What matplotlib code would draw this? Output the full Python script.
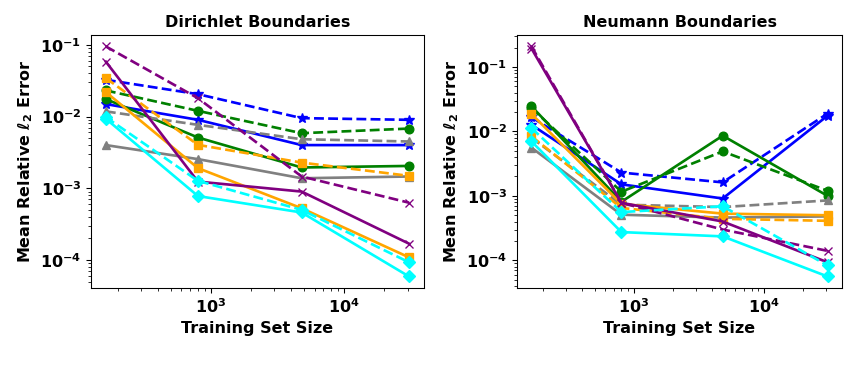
import matplotlib
matplotlib.use("Agg")
import matplotlib.pyplot as plt

# training set sizes
sizes = [163, 800, 4800, 30700]

# Dirichlet boundaries: (solid, dashed) per method
dir_blue = [0.0149, 0.0090, 0.0040, 0.0040]
dir_blue_d = [0.0325, 0.0205, 0.0095, 0.0090]
dir_green = [0.0175, 0.0051, 0.00195, 0.00205]
dir_green_d = [0.0231, 0.0120, 0.00586, 0.0068]
dir_gray = [0.0040, 0.00255, 0.00138, 0.00146]
dir_gray_d = [0.0118, 0.00766, 0.00483, 0.00449]
dir_orange = [0.0219, 0.00191, 0.000527, 0.000109]
dir_orange_d = [0.0343, 0.00403, 0.00228, 0.00149]
dir_purple = [0.058, 0.00124, 0.00090, 0.000169]
dir_purple_d = [0.0948, 0.0180, 0.00146, 0.00063]
dir_cyan = [0.0093, 0.00078, 0.00046, 0.000059]
dir_cyan_d = [0.0098, 0.00127, 0.00050, 0.000093]

# Neumann boundaries
neu_blue = [0.0127, 0.00151, 0.00091, 0.0176]
neu_blue_d = [0.0166, 0.0023, 0.00162, 0.0190]
neu_green = [0.0246, 0.00081, 0.0086, 0.00100]
neu_green_d = [0.0231, 0.00116, 0.0049, 0.00120]
neu_gray = [0.0056, 0.00051, 0.00046, 0.00048]
neu_gray_d = [0.0080, 0.00073, 0.00067, 0.00085]
neu_orange = [0.0187, 0.00075, 0.00053, 0.00050]
neu_orange_d = [0.0084, 0.00065, 0.00044, 0.00041]
neu_purple = [0.194, 0.00078, 0.00040, 0.000093]
neu_purple_d = [0.209, 0.00078, 0.00030, 0.00014]
neu_cyan = [0.0070, 0.000274, 0.000235, 0.000056]
neu_cyan_d = [0.0113, 0.00056, 0.00069, 0.000083]

colors = ['blue', 'green', 'gray', 'orange', 'purple', 'cyan']
markers = ['*', 'o', '^', 's', 'x', 'D']

dirichlet = [(dir_blue, dir_blue_d), (dir_green, dir_green_d), (dir_gray, dir_gray_d),
             (dir_orange, dir_orange_d), (dir_purple, dir_purple_d), (dir_cyan, dir_cyan_d)]
neumann = [(neu_blue, neu_blue_d), (neu_green, neu_green_d), (neu_gray, neu_gray_d),
           (neu_orange, neu_orange_d), (neu_purple, neu_purple_d), (neu_cyan, neu_cyan_d)]

plt.rcParams['font.weight'] = 'bold'
plt.rcParams['axes.labelweight'] = 'bold'
plt.rcParams['axes.titleweight'] = 'bold'
plt.rcParams['font.size'] = 12

fig = plt.figure(figsize=(9, 4), dpi=96)
ax1 = fig.add_axes([0.105, 0.25, 0.386, 0.659])
ax2 = fig.add_axes([0.598, 0.25, 0.377, 0.659])

for ax, data, title in [(ax1, dirichlet, "Dirichlet Boundaries"),
                        (ax2, neumann, "Neumann Boundaries")]:
  for (solid, dashed), c, m in zip(data, colors, markers):
    ms = 8 if m == '*' else 6.5
    ax.plot(sizes, solid, '-', color=c, marker=m, markersize=ms, linewidth=2.0)
    ax.plot(sizes, dashed, '--', color=c, marker=m, markersize=ms, linewidth=2.0)
  ax.set_xscale('log')
  ax.set_yscale('log')
  ax.set_title(title, fontsize=12)
  ax.set_xlabel("Training Set Size", fontsize=12)
  ax.set_ylabel(r"Mean Relative $\ell_2$ Error", fontsize=12)

fig.savefig("out.png", dpi=96)
